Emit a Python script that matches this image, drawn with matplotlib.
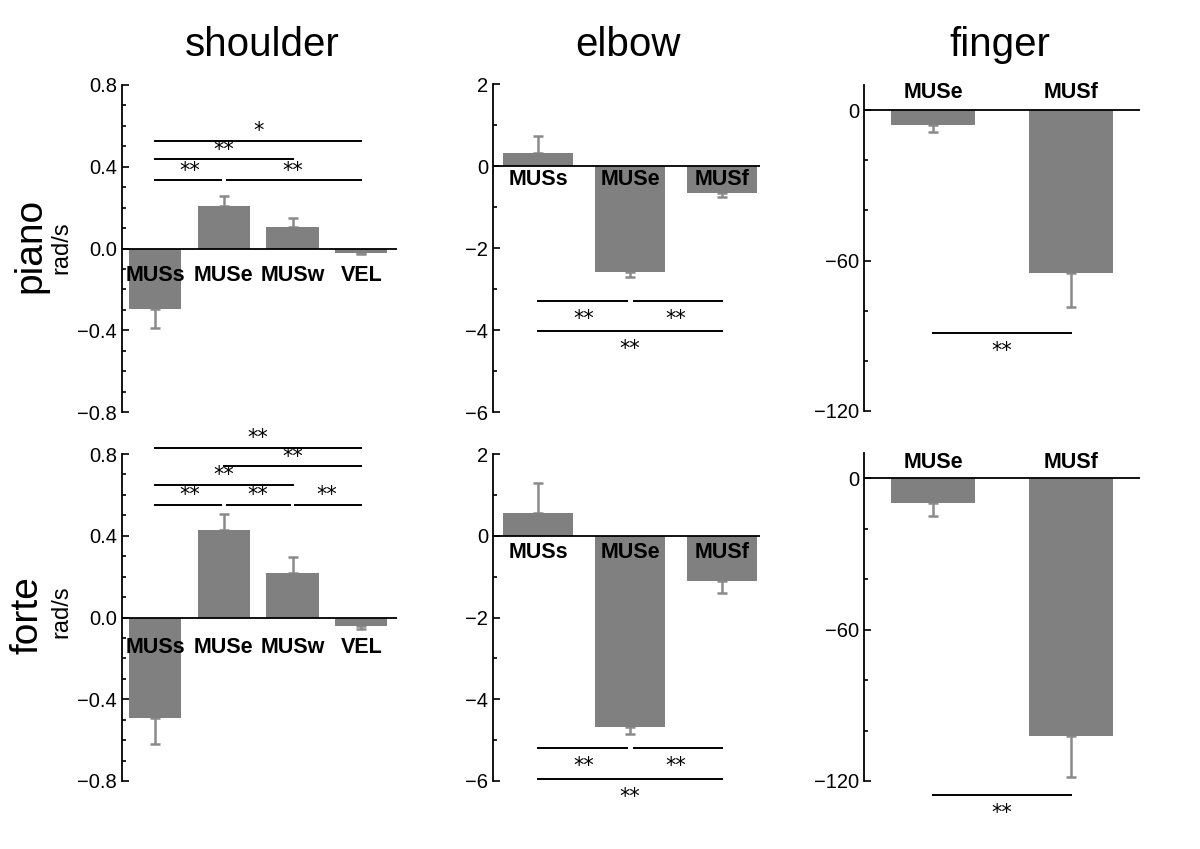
import numpy as np
import matplotlib
matplotlib.use('Agg')
import matplotlib.pyplot as plt
from matplotlib.ticker import MultipleLocator

plt.rcParams['font.family'] = ['Liberation Sans', 'DejaVu Sans']

# data (mean, one-sided error)
shoulder_cats = ['MUSs', 'MUSe', 'MUSw', 'VEL']
shoulder_piano = [-0.295, 0.21, 0.103, -0.02]
shoulder_piano_err = [0.095, 0.045, 0.047, 0.008]
shoulder_forte = [-0.49, 0.43, 0.216, -0.044]
shoulder_forte_err = [0.13, 0.075, 0.078, 0.01]

elbow_cats = ['MUSs', 'MUSe', 'MUSf']
elbow_piano = [0.32, -2.58, -0.66]
elbow_piano_err = [0.41, 0.12, 0.10]
elbow_forte = [0.56, -4.68, -1.1]
elbow_forte_err = [0.74, 0.17, 0.3]

finger_cats = ['MUSe', 'MUSf']
finger_piano = [-6, -65]
finger_piano_err = [2.8, 13.6]
finger_forte = [-10, -102]
finger_forte_err = [5, 16.5]

# significance bars: (from, to, level, label)
shoulder_piano_sig = [(0, 3, 0.525, '*'), (0, 2, 0.436, '**'), (0, 1, 0.333, '**'), (1, 3, 0.333, '**')]
shoulder_forte_sig = [(0, 3, 0.83, '**'), (1, 3, 0.74, '**'), (0, 2, 0.65, '**'),
                      (0, 1, 0.55, '**'), (1, 2, 0.55, '**'), (2, 3, 0.55, '**')]
elbow_piano_sig = [(0, 1, -3.29, '**'), (1, 2, -3.29, '**'), (0, 2, -4.02, '**')]
elbow_forte_sig = [(0, 1, -5.2, '**'), (1, 2, -5.2, '**'), (0, 2, -5.95, '**')]
finger_piano_sig = [(0, 1, -89, '**')]
finger_forte_sig = [(0, 1, -125.5, '**')]

bar_color = '#808080'
W, H = 1200, 849
fig = plt.figure(figsize=(12, 8.49), dpi=100)


def panel(rect, cats, vals, errs, sig, ylim, major, minor, xlim, width, label_y, star_side):
    ax = fig.add_axes(rect)
    x = np.arange(len(cats))
    vals = np.array(vals)
    errs = np.array(errs)
    lower = np.where(vals < 0, errs, 0)
    upper = np.where(vals >= 0, errs, 0)
    ax.bar(x, vals, width=width, color=bar_color, zorder=2)
    ax.errorbar(x, vals, yerr=[lower, upper], fmt='none', ecolor='#8a8a8a',
                elinewidth=1.8, capsize=3.5, capthick=1.8, zorder=1)
    ax.axhline(0, color='black', lw=1.3, zorder=3)
    for xi, c in zip(x, cats):
        ax.text(xi, label_y, c, ha='center', va='center', fontsize=15.5,
                fontweight='bold', zorder=4)
    # significance lines
    for i, j, lev, lab in sig:
        x0, x1 = i, j
        for k, l, lev2, _ in sig:
            if lev2 == lev and (k, l) != (i, j):
                if l == i:
                    x0 = i + 0.04
                if k == j:
                    x1 = j - 0.04
        ax.plot([x0, x1], [lev, lev], color='black', lw=1.4, clip_on=False)
        off = 7 if star_side == 'above' else -13
        ax.annotate(lab, ((i + j) / 2, lev), xytext=(0, off), textcoords='offset points',
                    ha='center', va='center', fontsize=15, family='DejaVu Sans',
                    annotation_clip=False)
    ax.set_xlim(xlim)
    ax.set_ylim(ylim)
    ax.yaxis.set_major_locator(MultipleLocator(major))
    ax.yaxis.set_minor_locator(MultipleLocator(minor))
    ax.tick_params(axis='y', which='both', direction='in', labelsize=14.5, width=1.2)
    ax.tick_params(axis='y', which='major', length=5)
    ax.tick_params(axis='y', which='minor', length=3)
    ax.set_xticks([])
    for s in ['top', 'right', 'bottom']:
        ax.spines[s].set_visible(False)
    ax.spines['left'].set_linewidth(1.3)
    ax.patch.set_alpha(0)
    return ax


def rect(x0, x1, ytop, ybot):
    return [x0 / W, 1 - ybot / H, (x1 - x0) / W, (ybot - ytop) / H]


panel(rect(122, 397, 85, 412), shoulder_cats, shoulder_piano, shoulder_piano_err,
      shoulder_piano_sig, (-0.8, 0.8), 0.4, 0.1, (-0.48, 3.52), 0.76, -0.13, 'above')
panel(rect(122, 397, 454, 781), shoulder_cats, shoulder_forte, shoulder_forte_err,
      shoulder_forte_sig, (-0.8, 0.8), 0.4, 0.1, (-0.48, 3.52), 0.76, -0.145, 'above')
panel(rect(493, 760, 84, 412), elbow_cats, elbow_piano, elbow_piano_err,
      elbow_piano_sig, (-6, 2), 2, 1, (-0.49, 2.41), 0.76, -0.34, 'below')
panel(rect(493, 760, 454, 781), elbow_cats, elbow_forte, elbow_forte_err,
      elbow_forte_sig, (-6, 2), 2, 1, (-0.49, 2.41), 0.76, -0.41, 'below')
panel(rect(864, 1140, 85, 411), finger_cats, finger_piano, finger_piano_err,
      finger_piano_sig, (-120, 10), 60, 20, (-0.5, 1.5), 0.61, 7.2, 'below')
panel(rect(864, 1140, 453, 781), finger_cats, finger_forte, finger_forte_err,
      finger_forte_sig, (-120, 10), 60, 20, (-0.5, 1.5), 0.61, 6.4, 'below')

# column titles
for name, cx in zip(['shoulder', 'elbow', 'finger'], [262, 628, 1000]):
    fig.text(cx / W, 1 - 56 / H, name, ha='center', va='baseline', fontsize=29)

# row labels
for name, cy, cx in [('piano', 245, 30), ('forte', 615, 27)]:
    fig.text(cx / W, 1 - cy / H, name, rotation=90, ha='center', va='center', fontsize=28)
for cy in [248, 612]:
    fig.text(61 / W, 1 - cy / H, 'rad/s', rotation=90, ha='center', va='center', fontsize=17)

fig.savefig('out.png', dpi=100)
